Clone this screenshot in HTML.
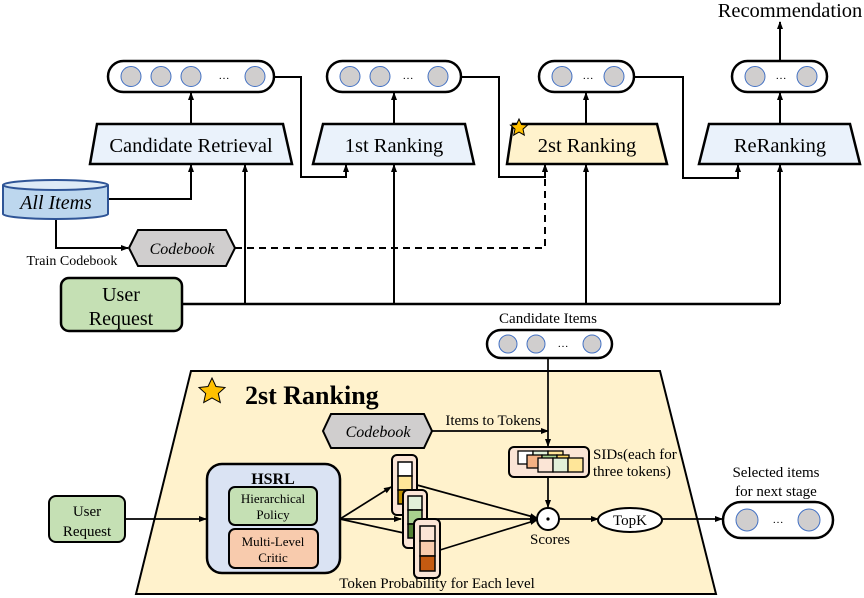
<!DOCTYPE html>
<html><head><meta charset="utf-8"><style>
body{margin:0;background:#fff}
svg{display:block;font-family:"Liberation Serif","DejaVu Serif",serif}
</style></head><body>
<svg width="864" height="598" viewBox="0 0 864 598" xmlns="http://www.w3.org/2000/svg">
<defs>
<marker id="a" markerWidth="8" markerHeight="8" refX="7" refY="4" orient="auto" markerUnits="userSpaceOnUse"><path d="M0,1 L8,4 L0,7 z" fill="#000"/></marker>
</defs>
<g fill="none" stroke="#000" stroke-width="2.5">
<rect x="108" y="61" width="166" height="31" rx="15.5" fill="#fff"/>
<rect x="327" y="61" width="134" height="31" rx="15.5" fill="#fff"/>
<rect x="539" y="61" width="95" height="31" rx="15.5" fill="#fff"/>
<rect x="732" y="61" width="95" height="31" rx="15.5" fill="#fff"/>
<path d="M97,124 L283,124 L292,164 L90,164 Z" fill="#eaf2fb"/>
<path d="M323,124 L465,124 L474,164 L313,164 Z" fill="#eaf2fb"/>
<path d="M513,124 L657,124 L667,164 L507,164 Z" fill="#fff2cc"/>
<path d="M709,124 L850,124 L860,164 L699,164 Z" fill="#eaf2fb"/>
</g>
<g fill="#d0cece" stroke="#4472c4" stroke-width="1">
<circle cx="131" cy="76.5" r="10"/><circle cx="161" cy="76.5" r="10"/><circle cx="191" cy="76.5" r="10"/><circle cx="255" cy="76.5" r="10"/>
<circle cx="350" cy="76.5" r="10"/><circle cx="380" cy="76.5" r="10"/><circle cx="438" cy="76.5" r="10"/>
<circle cx="562" cy="76.5" r="10"/><circle cx="614" cy="76.5" r="10"/>
<circle cx="755" cy="76.5" r="10"/><circle cx="807" cy="76.5" r="10"/>
</g>
<g font-size="11" text-anchor="middle"><text x="224" y="79">…</text><text x="408" y="79">…</text><text x="588" y="79">…</text><text x="781" y="79">…</text></g>
<g font-size="20.5" text-anchor="middle">
<text x="191" y="152">Candidate Retrieval</text>
<text x="394" y="152">1st Ranking</text>
<text x="587" y="152">2st Ranking</text>
<text x="780" y="152">ReRanking</text>
<text x="790" y="17">Recommendation</text>
</g>
<path d="M519,119 l2.5,5.5 6,0.6 -4.5,4 1.3,6 -5.3,-3 -5.3,3 1.3,-6 -4.5,-4 6,-0.6z" fill="#ffc000" stroke="#000" stroke-width="1"/>
<g fill="none" stroke="#000" stroke-width="2" marker-end="url(#a)">
<path d="M191,124 V93"/><path d="M394,124 V93"/><path d="M586,124 V93"/><path d="M780,124 V93"/><path d="M780,61 V22"/>
<path d="M274,77 H301 V177 H346 V165"/>
<path d="M461,77 H499 V177 H545 V165"/>
<path d="M634,77 H683 V178 H738 V165"/>
<path d="M108,199 H191 V165"/>
<path d="M56,219 V248 H128"/>
<path d="M245,304 V165"/><path d="M394,304 V165"/><path d="M586,304 V165"/><path d="M780,304 H780 V165"/>
</g>
<path d="M182,304 H780" stroke="#000" stroke-width="2.5"/>
<path d="M235,248 H545 V165" fill="none" stroke="#000" stroke-width="2" stroke-dasharray="7,5" marker-end="url(#a)"/>
<path d="M3,185 V214 A52.5,5 0 0 0 108,214 V185" fill="#bdd7ee" stroke="#2f5597" stroke-width="2"/>
<ellipse cx="55.5" cy="185" rx="52.5" ry="5" fill="#deebf7" stroke="#2f5597" stroke-width="2"/>
<text x="56" y="209" font-size="20" font-style="italic" text-anchor="middle">All Items</text>
<path d="M129,248 L138,230 L226,230 L235,248 L226,266 L138,266 Z" fill="#d0cece" stroke="#000" stroke-width="2"/>
<text x="182" y="254" font-size="16" font-style="italic" text-anchor="middle">Codebook</text>
<text x="72" y="265" font-size="14" text-anchor="middle">Train Codebook</text>
<rect x="61" y="278" width="121" height="53" rx="8" fill="#c5e0b4" stroke="#000" stroke-width="2.5"/>
<text x="121" y="301" font-size="20" text-anchor="middle">User</text>
<text x="121" y="325" font-size="20" text-anchor="middle">Request</text>
<text x="548" y="323" font-size="15" text-anchor="middle">Candidate Items</text>
<path d="M191,371 L660,371 L716,594 L136,594 Z" fill="#fff2cc" stroke="#000" stroke-width="2"/>
<rect x="487" y="330" width="125" height="28" rx="14" fill="#fff" stroke="#000" stroke-width="2.5"/>
<rect x="723" y="502" width="110" height="36" rx="18" fill="#fff" stroke="#000" stroke-width="2.5"/>
<g fill="#d0cece" stroke="#4472c4" stroke-width="1">
<circle cx="508" cy="344" r="9"/><circle cx="536" cy="344" r="9"/><circle cx="592" cy="344" r="9"/>
<circle cx="747" cy="520" r="11"/><circle cx="809" cy="520" r="11"/>
</g>
<text x="563" y="347" font-size="11" text-anchor="middle">…</text>
<text x="778" y="523" font-size="11" text-anchor="middle">…</text>
<path d="M212,378 l4,8.5 9,1 -6.7,6 2,9 -8.3,-4.6 -8.3,4.6 2,-9 -6.7,-6 9,-1z" fill="#ffc000" stroke="#000" stroke-width="1"/>
<text x="245" y="404" font-size="26" font-weight="bold">2st Ranking</text>
<path d="M323,431 L331,414 L424,414 L432,431 L424,448 L331,448 Z" fill="#d0cece" stroke="#000" stroke-width="2"/>
<text x="378" y="437" font-size="16" font-style="italic" text-anchor="middle">Codebook</text>
<text x="493" y="425" font-size="15" text-anchor="middle">Items to Tokens</text>
<g fill="none" stroke="#000" stroke-width="1.7" marker-end="url(#a)">
<path d="M432,431 H548"/>
<path d="M548,358 V446"/>
<path d="M548,477 V507"/>
<path d="M559,519 H598"/>
<path d="M662,519 H722"/>
<path d="M125,519 H206"/>
<path d="M340,519 L391,487"/><path d="M340,519 L401,519"/><path d="M340,519 L413,535"/>
<path d="M417,485 L537,518"/><path d="M427,519 L537,519"/><path d="M440,550 L537,520"/>
</g>
<rect x="509" y="447" width="80" height="30" rx="5" fill="#fbe5d6" stroke="#000" stroke-width="2"/>
<g stroke="#000" stroke-width="1.3">
<rect x="518" y="451" width="15" height="13" fill="#fff"/><rect x="533" y="451" width="15" height="13" fill="#e2f0d9"/><rect x="548" y="451" width="15" height="13" fill="#ffe699"/>
<rect x="527" y="455" width="15" height="13" fill="#f4b183"/><rect x="542" y="455" width="15" height="13" fill="#a9d18e"/><rect x="557" y="455" width="12" height="13" fill="#ffd966"/>
<rect x="538" y="458" width="15" height="14" fill="#fbe5d6"/><rect x="553" y="458" width="15" height="14" fill="#e2f0d9"/><rect x="568" y="458" width="15" height="14" fill="#ffe699"/>
</g>
<text x="593" y="459" font-size="15">SIDs(each for</text>
<text x="593" y="476" font-size="15">three tokens)</text>
<circle cx="548" cy="519" r="11" fill="#fff" stroke="#000" stroke-width="2"/>
<circle cx="548" cy="519" r="1.6" fill="#000"/>
<text x="550" y="544" font-size="15" text-anchor="middle">Scores</text>
<ellipse cx="630" cy="520" rx="32" ry="12" fill="#fff" stroke="#000" stroke-width="2"/>
<text x="630" y="525" font-size="15" text-anchor="middle">TopK</text>
<text x="776" y="477" font-size="15" text-anchor="middle">Selected items</text>
<text x="776" y="496" font-size="15" text-anchor="middle">for next stage</text>
<rect x="207" y="464" width="133" height="109" rx="15" fill="#dae3f3" stroke="#000" stroke-width="2.5"/>
<text x="273" y="484" font-size="16" font-weight="bold" text-anchor="middle">HSRL</text>
<rect x="229" y="487" width="88" height="38" rx="6" fill="#c5e0b4" stroke="#000" stroke-width="2"/>
<text x="273" y="503" font-size="13" text-anchor="middle">Hierarchical</text>
<text x="273" y="519" font-size="13" text-anchor="middle">Policy</text>
<rect x="229" y="529" width="89" height="39" rx="6" fill="#f8cbad" stroke="#000" stroke-width="2"/>
<text x="273" y="546" font-size="13" text-anchor="middle">Multi-Level</text>
<text x="273" y="562" font-size="13" text-anchor="middle">Critic</text>
<rect x="49" y="496" width="76" height="46" rx="7" fill="#c5e0b4" stroke="#000" stroke-width="2"/>
<text x="87" y="516" font-size="15" text-anchor="middle">User</text>
<text x="87" y="536" font-size="15" text-anchor="middle">Request</text>
<g stroke="#000" stroke-width="2">
<rect x="392" y="455" width="25" height="60" rx="5" fill="#fbe5d6"/>
<rect x="398" y="462" width="14" height="14" fill="#fff" stroke-width="1.5"/><rect x="398" y="476" width="14" height="14" fill="#ffe699" stroke-width="1.5"/><rect x="398" y="490" width="14" height="14" fill="#bf9000" stroke-width="1.5"/>
<rect x="403" y="490" width="24" height="58" rx="5" fill="#fbe5d6"/>
<rect x="408" y="496" width="14" height="14" fill="#e2f0d9" stroke-width="1.5"/><rect x="408" y="510" width="14" height="14" fill="#a9d18e" stroke-width="1.5"/><rect x="408" y="524" width="14" height="14" fill="#548235" stroke-width="1.5"/>
<rect x="414" y="519" width="26" height="59" rx="5" fill="#fbe5d6"/>
<rect x="420" y="526" width="15" height="15" fill="#fbe5d6" stroke-width="1.5"/><rect x="420" y="541" width="15" height="15" fill="#f8cbad" stroke-width="1.5"/><rect x="420" y="556" width="15" height="15" fill="#c55a11" stroke-width="1.5"/>
</g>
<text x="437" y="588" font-size="15" text-anchor="middle">Token Probability for Each level</text>
</svg>
</body></html>
